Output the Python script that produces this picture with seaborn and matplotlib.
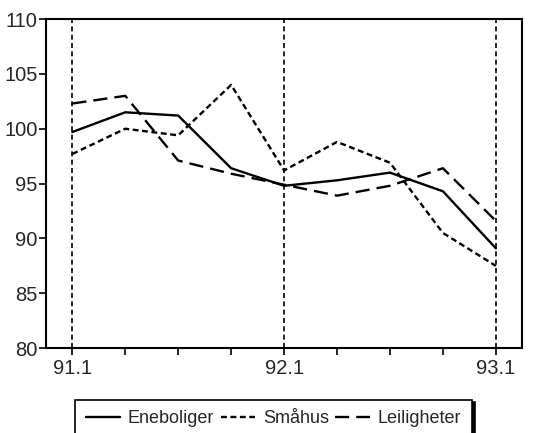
import matplotlib
matplotlib.use("Agg")
import matplotlib.pyplot as plt
import seaborn as sns
import pandas as pd

# kvartaler 91.1 - 93.1
quarters = list(range(9))
tick_labels = ["91.1", "", "", "", "92.1", "", "", "", "93.1"]

eneboliger = [99.7, 101.5, 101.2, 96.4, 94.8, 95.3, 96.0, 94.3, 89.1]
smahus = [97.7, 100.0, 99.4, 104.0, 96.2, 98.8, 96.9, 90.5, 87.5]
leiligheter = [102.3, 103.0, 97.1, 95.9, 94.9, 93.9, 94.8, 96.4, 91.6]

series = ["Eneboliger", "Småhus", "Leiligheter"]

df = pd.DataFrame({
    "kvartal": quarters * 3,
    "indeks": eneboliger + smahus + leiligheter,
    "serie": [s for s in series for _ in quarters],
})

sns.set_style("white")
plt.rcParams["font.family"] = ["Liberation Sans", "DejaVu Sans"]

fig = plt.figure(figsize=(5.33, 4.33), dpi=100)
ax = fig.add_axes([0.086, 0.196, 0.894, 0.760])

for x in [0, 4, 8]:
    ax.axvline(x, color="black", lw=1.2, ls=(0, (3, 2)), zorder=1)

sns.lineplot(
    data=df, x="kvartal", y="indeks", hue="serie", style="serie",
    palette={s: "black" for s in series},
    dashes={"Eneboliger": "", "Småhus": (2.5, 1.5), "Leiligheter": (6, 3)},
    linewidth=1.7, legend=False, ax=ax, zorder=3,
)

ax.set_xlim(-0.5, 8.5)
ax.set_ylim(80, 110)
ax.set_yticks([80, 85, 90, 95, 100, 105, 110])
ax.set_xticks(quarters)
ax.set_xticklabels(tick_labels)
ax.set_xlabel("")
ax.set_ylabel("")
ax.tick_params(axis="both", direction="out", length=5, width=1.2, color="black",
               labelsize=14.5, pad=1, bottom=True, left=True)
ax.tick_params(axis="x", pad=3)
for sp in ax.spines.values():
    sp.set_color("black")
    sp.set_linewidth(1.5)

handles = ax.get_lines()[3:6]
leg = fig.legend(handles, series, loc="upper center", bbox_to_anchor=(0.513, 0.077),
                 ncol=3, fontsize=13, frameon=True, fancybox=False,
                 shadow={"color": "black", "alpha": 1}, handlelength=1.9,
                 handletextpad=0.45, columnspacing=0.35, borderpad=0.6,
                 borderaxespad=0)
leg.get_frame().set_edgecolor("black")
leg.get_frame().set_linewidth(1.2)

fig.savefig("out.png", dpi=100)
